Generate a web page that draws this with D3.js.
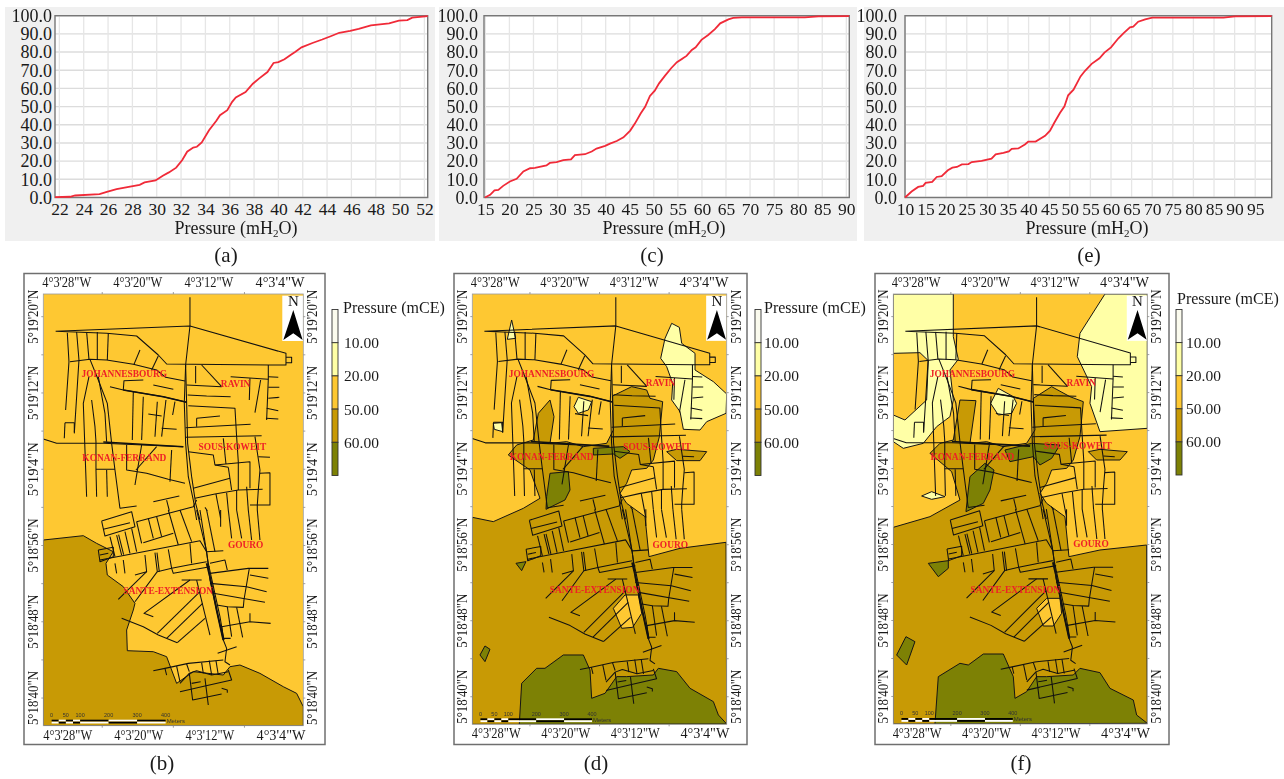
<!DOCTYPE html>
<html><head><meta charset="utf-8">
<script src="https://cdnjs.cloudflare.com/ajax/libs/d3/7.8.5/d3.min.js"></script>
<style>html,body{margin:0;background:#fff}svg{display:block;font-family:"Liberation Serif",serif;filter:blur(0.35px)}</style>
</head><body><svg id="c" width="1284" height="779"></svg>
<script>
// ---- cumulative curves: [pressure mH2O, percent] ----
const cdfA=[[21.64,0.2],[22.87,0.4],[23.3,1.1],[25.3,1.8],[25.9,3.1],[26.7,4.6],[27.7,5.9],[28.6,7.0],[29.0,8.3],[29.9,9.4],[30.5,12],[31.0,13.8],[31.6,16.4],[32.1,20.6],[32.5,25.2],[33.0,27.5],[33.3,27.9],[33.7,30.3],[34.3,37],[34.9,42.2],[35.2,45.3],[35.8,48],[36.2,52.6],[36.5,55],[37.3,58],[37.9,62.6],[38.4,65.4],[39.1,69],[39.6,74],[40.0,74.5],[40.5,76],[41,78.4],[41.4,80.2],[41.9,82.6],[42.8,85],[43.6,86.9],[44.3,88.7],[45,90.6],[45.9,91.7],[46.6,92.8],[47.6,94.7],[49.1,95.8],[49.9,97.3],[50.6,97.6],[51,98.9],[52.27,99.8]];
const cdfC=[[14.9,0],[16,1.5],[16.9,3.9],[17.7,4.2],[18.7,6.4],[20.1,8.8],[21.5,10.3],[22.9,14.3],[24.3,16.1],[25.3,16.3],[27.7,17.6],[28.4,19],[29.8,19.4],[31.2,20.5],[32.8,21],[33.6,23.3],[35.7,23.8],[37.1,25.3],[38.1,26.9],[39.9,28.4],[40.9,29.6],[42.3,31.1],[43.7,33.1],[45.1,36.8],[46.1,40.8],[47.3,46.3],[48.2,49.9],[49.2,55.9],[50.2,58.8],[51.1,62.8],[52.3,66.9],[53.6,71.1],[54.8,74.4],[56.8,77.9],[57.9,81.2],[58.7,82.6],[59.9,86.7],[61.3,89.4],[62.7,92.6],[63.8,95.8],[65.5,98],[66.5,98.8],[68.3,99.1],[81.4,99.1],[84.2,99.6],[90.6,99.8]];
const cdfE=[[10,0],[11.6,3.3],[13.2,5.8],[14.4,6.4],[15,8],[16.6,8.6],[17.7,11.3],[18.9,11.8],[20.4,15],[21.5,16.4],[22.6,16.8],[23.8,18.2],[25.4,18.4],[26.2,19.5],[28.6,20.1],[31,21.4],[32,23.7],[33.9,24.5],[35.2,25.4],[35.9,26.8],[37.5,27],[39.1,29.2],[39.9,30.7],[41.7,30.8],[44,33.9],[45.2,36.8],[46.2,41],[47.6,46.5],[48.7,50.2],[49.6,56.2],[50.9,59.3],[52.6,66.6],[53.7,69.7],[55.3,73.5],[57.2,76.6],[58.4,79.7],[60,82.6],[61.8,87.6],[63,90.3],[64.6,93.6],[65.4,94],[66.6,96.7],[68.3,98],[70,98.9],[87.3,98.9],[90.1,99.6],[99,99.8]];
const ticksA=[22,24,26,28,30,32,34,36,38,40,42,44,46,48,50,52];
const ticksC=[15,20,25,30,35,40,45,50,55,60,65,70,75,80,85,90];
const ticksE=[10,15,20,25,30,35,40,45,50,55,60,65,70,75,80,85,90,95];
const percentTicks=[0,10,20,30,40,50,60,70,80,90,100];
const domainA=[21.64,52.27], domainC=[14.72,90.62], domainE=[10,99];

// ---- map graticule (arc-seconds) ----
const lonTicks=[24,16,8], lonLabels=[[28,"4°3'28\"W"],[20,"4°3'20\"W"],[12,"4°3'12\"W"],[4,"4°3'4\"W"]];
const latTicks=[80,76,72,68,64,60,56,52,48,44,40];
const latLabels=[[80,"5°19'20\"N"],[72,"5°19'12\"N"],[64,"5°19'4\"N"],[56,"5°18'56\"N"],[48,"5°18'48\"N"],[40,"5°18'40\"N"]];
const legendBreaks=["10.00","20.00","50.00","60.00"];
const legendColors=["#fbfbee","#ffffa6","#fec832","#c89a05","#7d8105"];
const scaleBarMeters=[0,25,50,75,100,200,300,400], scaleBarLabels=[0,50,100,200,300,400];

// ---- road network, surveyed in sheet units (north and south sheets) ----
const roadsNorth=[
[[510,82],[510,168],[497,285],[493,400],[497,520],[505,620],[520,690],[530,750]],
[[497,285],[500,400],[503,520],[515,620],[527,700],[540,750]],
[[107,184],[510,168],[798,250],[798,285],[750,285],[440,282],[415,255],[350,198],[260,190],[107,184]],
[[798,262],[815,262],[815,278],[798,278]],
[[142,188],[147,275],[137,420]],[[170,186],[177,270],[163,490]],[[200,186],[207,268]],[[232,186],[232,270]],[[265,190],[262,270]],
[[150,275],[210,268],[260,270],[340,283],[410,300],[437,322],[495,333]],[[415,258],[395,300]],[[360,240],[342,283]],[[400,345],[460,358]],
[[270,350],[310,360],[430,380],[500,397]],[[310,360],[312,332],[370,330]],
[[210,268],[235,330],[262,400],[275,520],[285,600],[300,715]],[[207,320],[190,400],[200,680]],[[235,320],[255,430],[260,515]],
[[135,458],[163,458],[163,487]],[[135,458],[133,505]],[[215,390],[225,470],[228,515],[228,598],[230,680]],
[[70,507],[110,520],[250,520],[490,530]],[[260,600],[262,680]],[[228,598],[285,598]],
[[340,365],[337,510]],[[370,380],[365,510]],[[412,395],[405,500]],[[438,390],[425,500]],[[465,395],[458,435]],[[385,432],[425,438]],[[425,475],[470,478]],
[[320,525],[320,600],[380,610],[445,628],[495,640]],[[365,525],[345,645]],[[410,530],[348,600]],[[455,540],[450,635]],
[[503,375],[560,378],[632,380]],[[500,345],[605,350]],[[527,288],[527,340]],[[545,285],[605,350]],
[[505,407],[645,415],[650,500],[655,575],[655,660]],[[530,445],[600,438]],[[530,445],[530,470]],[[497,473],[692,463]],[[497,502],[725,497]],
[[632,320],[745,328]],[[745,285],[745,328],[740,450]],[[745,320],[775,322]],[[745,352],[778,352]],[[745,385],[778,382]],[[740,415],[775,422]],[[738,445],[775,447]],[[690,325],[688,390]],[[722,330],[705,428]],
[[505,545],[580,555],[585,585],[625,592]],[[610,505],[618,582]],[[585,585],[690,575],[690,655]],[[625,592],[635,660]],
[[705,500],[720,600],[715,660],[712,705]],[[715,560],[750,562]],[[720,610],[750,608],[750,705],[690,705]],[[520,655],[630,625]],[[525,685],[585,672],[655,660],[728,658]],
[[350,755],[520,710],[530,690]],[[400,695],[478,678]],[[300,715],[350,708]],[[440,690],[448,722]],
[[555,712],[562,722]],[[588,672],[602,745]],[[620,668],[625,720]],[[650,660],[650,720]],[[680,650],[685,720]],[[712,705],[712,720]]
];
const roadsSouth=[
[[530,-30],[560,95],[570,180],[590,270],[610,360],[620,385],[615,425],[630,435]],
[[540,-30],[565,130],[600,290],[612,360]],
[[245,3],[335,-25],[345,20],[255,48],[245,3]],[[250,28],[330,8]],
[[350,5],[365,70]],[[385,-5],[400,55]],[[410,-10],[425,50]],[[370,68],[460,40]],[[445,-30],[475,75]],[[480,-30],[515,65]],
[[270,50],[285,110]],[[290,45],[305,105]],[[296,44],[311,104]],[[315,35],[330,100]],[[335,25],[350,95]],
[[240,120],[370,95],[540,62],[560,95],[610,92]],[[235,90],[280,82],[280,110],[240,125],[235,90]],[[240,105],[265,100]],
[[445,88],[455,145],[505,135],[560,125]],[[455,145],[460,160],[570,140]],[[510,70],[515,130]],[[570,130],[615,120],[622,150]],[[570,160],[685,145],[745,145]],
[[285,130],[290,160]],[[310,120],[315,160]],[[375,105],[380,155],[345,165]],[[380,155],[295,238]],[[405,98],[412,155],[345,245]],[[411,98],[418,155]],[[412,155],[455,145]],
[[560,-30],[585,95]],[[602,-30],[602,20]],[[625,-30],[635,55]],[[650,-30],[665,55]],[[685,-30],[695,60]],[[712,-30],[720,60]],
[[688,145],[672,240],[670,262],[622,260],[590,255]],[[690,165],[745,175]],[[570,190],[680,200],[740,215]],[[580,220],[735,247]],
[[622,260],[635,350]],[[650,262],[668,352]],[[605,320],[690,305],[752,310]],[[690,280],[690,305]],[[605,320],[610,355],[632,355]],
[[485,180],[545,180]],[[510,180],[372,280],[400,290]],[[540,215],[412,340]],[[548,250],[440,355]],[[555,295],[472,368]],[[305,295],[370,320],[415,345],[472,368]],[[530,180],[570,345]],
[[593,400],[650,380]],
[[400,452],[435,445],[505,430],[610,420]],[[435,445],[440,465]],[[470,438],[480,485]],[[500,432],[508,455]],[[545,428],[550,460]],[[568,422],[575,465]],[[588,422],[595,465]],
[[480,490],[508,460],[530,452],[575,465],[625,455]],[[625,450],[635,480],[555,498],[480,515]],[[508,460],[518,540],[605,522]],[[515,490],[542,485]],[[555,475],[565,555]],[[605,505],[622,510],[622,518]]
];
const trunkRoad=[[[250,516],[490,530]],[[310,360],[430,380],[500,397]]];
const trunkRoadSouth=[[[560,130],[570,170],[590,270],[610,360]]];

// ---- pressure zones per map, in each panel's own sheet units ----
const zonesB=[{k:3,p:[[70,810],[190,797],[230,820],[280,845],[258,880],[262,915],[310,950],[345,1000],[340,1020],[320,1080],[322,1142],[400,1145],[440,1160],[470,1240],[520,1205],[610,1215],[630,1190],[660,1185],[720,1210],[790,1250],[830,1270],[850,1310],[850,1367],[70,1367]]}];
const zonesD=[
{k:1,p:[[665,160],[688,172],[695,220],[735,250],[735,300],[790,335],[830,372],[828,430],[770,455],[750,480],[700,478],[690,425],[665,390],[668,340],[650,290],[632,265],[645,205]]},
{k:1,p:[[185,150],[197,205],[172,208]]},
{k:1,p:[[372,410],[385,382],[425,395],[415,420],[385,430]]},
{k:1,p:[[130,460],[155,458],[158,485],[133,478]]},
{k:3,p:[[67,742],[130,755],[220,715],[270,685],[240,600],[175,555],[200,525],[250,510],[265,430],[300,390],[312,440],[300,520],[350,515],[400,530],[470,520],[490,480],[488,378],[545,350],[590,360],[600,385],[638,395],[628,500],[610,570],[590,595],[545,600],[530,640],[510,670],[530,700],[585,740],[597,860],[690,835],[828,817],[830,1363],[67,1363]]},
{k:3,p:[[650,545],[680,538],[770,545],[750,572],[680,572]]},
{k:2,p:[[490,1015],[525,975],[565,975],[575,1030],[548,1072],[515,1075]]},
{k:4,p:[[300,610],[355,605],[360,660],[345,690],[288,718],[290,680]]},
{k:4,p:[[430,535],[520,530],[540,545],[510,565],[490,552],[430,555]]},
{k:4,p:[[208,1363],[215,1240],[260,1195],[285,1195],[340,1155],[400,1155],[420,1200],[425,1285],[465,1270],[500,1220],[530,1220],[610,1215],[625,1195],[680,1205],[720,1255],[790,1295],[805,1335],[830,1362]]},
{k:4,p:[[90,1155],[105,1128],[120,1138],[105,1175]]},
{k:4,p:[[198,880],[228,875],[215,902]]}
];
const zonesF=[
{k:1,p:[[70,72],[250,72],[250,200],[265,268],[240,300],[250,390],[240,440],[200,470],[160,520],[100,535],[70,515]]},
{k:2,p:[[70,250],[150,248],[175,272],[170,390],[105,450],[70,435]]},
{k:1,p:[[705,72],[630,190],[622,260],[665,350],[660,400],[690,485],[832,475],[832,72]]},
{k:1,p:[[362,400],[385,355],[430,380],[440,400],[425,430],[385,435]]},
{k:3,p:[[70,772],[180,740],[270,690],[245,605],[180,550],[210,520],[250,510],[270,390],[318,392],[300,520],[350,515],[400,530],[470,520],[495,480],[490,385],[545,350],[600,380],[640,395],[630,500],[610,570],[590,595],[545,600],[530,640],[510,670],[530,700],[585,740],[597,860],[690,840],[830,825],[832,1362],[70,1362]]},
{k:3,p:[[655,545],[690,538],[772,545],[750,570],[680,570]]},
{k:2,p:[[500,1015],[530,985],[570,985],[575,1030],[550,1068],[520,1068]]},
{k:1,p:[[155,678],[185,665],[225,680],[185,688]]},
{k:4,p:[[300,620],[345,580],[372,600],[360,660],[340,700],[288,725],[295,660]]},
{k:4,p:[[405,540],[485,520],[570,525],[545,565],[510,585],[490,560],[420,575]]},
{k:4,p:[[195,1362],[205,1220],[270,1180],[295,1185],[340,1152],[400,1152],[430,1220],[435,1285],[470,1265],[500,1220],[530,1220],[610,1215],[630,1195],[690,1208],[720,1255],[790,1290],[800,1335],[832,1360]]},
{k:4,p:[[80,1155],[108,1100],[135,1115],[110,1185]]},
{k:4,p:[[175,880],[235,872],[235,895],[205,920]]}
];
const placeNames=[["JOHANNESBOURG",313,312],["RAVIN",647,340],["SOUS-KOWEIT",637,530],["KONAN-FERRAND",313,563],["GOURO",677,825],["SANTE-EXTENSION",445,963]];
const northArrow=[[820,120],[848,210],[820,190],[790,210]];

const svg=d3.select("#c");
const ink="#1a1a1a";

function drawCurve(o){
  const g=svg.append("g");
  g.append("rect").attr("x",o.bg[0]).attr("y",7).attr("width",o.bg[1]-o.bg[0]).attr("height",234).attr("fill","#f0f0f0");
  g.append("rect").attr("x",o.x0).attr("y",15.7).attr("width",o.x1-o.x0).attr("height",181.8).attr("fill","#fff");
  const x=d3.scaleLinear().domain(o.domain).range([o.x0,o.x1]);
  const y=d3.scaleLinear().domain([0,100]).range([197.5,15.7]);
  g.append("g").selectAll("line").data(percentTicks).join("line").attr("x1",o.x0).attr("x2",o.x1).attr("y1",y).attr("y2",y).attr("stroke","#dcdcdc").attr("stroke-width",1.4);
  g.append("g").selectAll("line").data(o.ticks).join("line").attr("x1",x).attr("x2",x).attr("y1",15.7).attr("y2",197.5).attr("stroke","#e6e6e6").attr("stroke-width",1.3);
  g.append("rect").attr("x",o.x0).attr("y",15.7).attr("width",o.x1-o.x0).attr("height",181.8).attr("fill","none").attr("stroke","#777").attr("stroke-width",1.4);
  g.append("path").attr("d",d3.line().x(d=>x(d[0])).y(d=>y(d[1]))(o.data)).attr("fill","none").attr("stroke","#f02a38").attr("stroke-width",1.8);
  const ax=g.append("g").attr("transform","translate(0,197.5)").call(d3.axisBottom(x).tickValues(o.ticks).tickSize(0).tickPadding(5).tickFormat(d3.format("d")));
  ax.select(".domain").remove();
  ax.selectAll("text").attr("font-family","Liberation Serif").attr("font-size",17.5).attr("fill",ink);
  const ay=g.append("g").attr("transform",`translate(${o.x0},0)`).call(d3.axisLeft(y).tickValues(percentTicks).tickSize(0).tickPadding(o.pad).tickFormat(d3.format(".1f")));
  ay.select(".domain").remove();
  ay.selectAll("text").attr("font-family","Liberation Serif").attr("font-size",18).attr("fill",ink);
  const t=g.append("text").attr("x",o.tx).attr("y",234).attr("text-anchor","middle").attr("font-size",18).attr("fill",ink).text("Pressure (mH");
  t.append("tspan").attr("font-size",11).attr("dy",3).text("2");
  t.append("tspan").attr("dy",-3).text("O)");
  svg.append("text").attr("x",o.lx).attr("y",262).attr("text-anchor","middle").attr("font-size",21).attr("fill",ink).text(o.letter);
}

function drawMap(o){
  const g=svg.append("g");
  g.append("rect").attr("x",o.frame[0]).attr("y",273.5).attr("width",o.frame[1]-o.frame[0]).attr("height",471).attr("fill","#fff").attr("stroke","#6f6f6f").attr("stroke-width",1.5);
  const [px0,px1,py0,py1]=o.plot;
  const clipId="clip"+o.letter[1];
  g.append("clipPath").attr("id",clipId).append("rect").attr("x",px0).attr("y",py0).attr("width",px1-px0).attr("height",py1-py0);
  const m=g.append("g").attr("clip-path",`url(#${clipId})`);
  m.append("rect").attr("x",px0).attr("y",py0).attr("width",px1-px0).attr("height",py1-py0).attr("fill",legendColors[2]);
  const sx=d3.scaleLinear().domain(o.sheetX).range([px0,px1]);
  const sy=d3.scaleLinear().domain(o.sheetY).range([py0,py1]);
  const rx=d3.scaleLinear().domain([70,850]).range([px0,px1]);
  const ry=d3.scaleLinear().domain([72,1367]).range([py0,py1]);
  const zoneLine=d3.line().x(d=>sx(d[0])).y(d=>sy(d[1])).curve(d3.curveLinear);
  m.selectAll("path.z").data(o.zones).join("path").attr("class","z").attr("d",d=>zoneLine(d.p)+"Z")
    .attr("fill",d=>legendColors[d.k]).attr("stroke","#151515").attr("stroke-width",1);
  const north=d3.line().x(d=>rx(d[0])).y(d=>ry(d[1]));
  const south=d3.line().x(d=>rx(d[0])).y(d=>ry(d[1]+750));
  const rd=m.append("g").attr("fill","none").attr("stroke","#111").attr("stroke-linejoin","round");
  rd.selectAll("path.n").data(roadsNorth).join("path").attr("class","n").attr("d",north).attr("stroke-width",1.05);
  rd.selectAll("path.s").data(roadsSouth).join("path").attr("class","s").attr("d",south).attr("stroke-width",1.05);
  rd.selectAll("path.tn").data(trunkRoad).join("path").attr("class","tn").attr("d",north).attr("stroke-width",1.6);
  rd.selectAll("path.ts").data(trunkRoadSouth).join("path").attr("class","ts").attr("d",south).attr("stroke-width",1.9);
  m.append("rect").attr("x",rx(787)).attr("y",ry(77)).attr("width",rx(850)-rx(787)).attr("height",ry(213)-ry(77)).attr("fill","#fff");
  m.append("path").attr("d",north(northArrow)+"Z").attr("fill","#000");
  m.append("text").attr("x",rx(820)).attr("y",ry(108)).attr("text-anchor","middle").attr("font-size",15).attr("fill","#111").text("N");
  m.selectAll("text.pn").data(placeNames).join("text").attr("class","pn").attr("x",d=>rx(d[1])).attr("y",d=>ry(d[2]+10)).attr("text-anchor","middle")
    .attr("font-size",9.4).attr("font-weight","bold").attr("fill","#ee2027").text(d=>d[0]);
  const mb=d3.scaleLinear().domain([0,400]).range([rx(95),rx(437)]);
  const bar=m.append("g");
  const segs=d3.pairs(scaleBarMeters);
  bar.selectAll("rect.a").data(segs).join("rect").attr("class","a").attr("x",d=>mb(d[0])).attr("y",ry(1349)).attr("width",d=>mb(d[1])-mb(d[0])).attr("height",1.8).attr("fill",(d,i)=>i%2?"#fff":"#000");
  bar.selectAll("rect.b").data(segs).join("rect").attr("class","b").attr("x",d=>mb(d[0])).attr("y",ry(1355)).attr("width",d=>mb(d[1])-mb(d[0])).attr("height",1.8).attr("fill",(d,i)=>i%2?"#000":"#fff");
  bar.selectAll("text").data(scaleBarLabels).join("text").attr("x",mb).attr("y",ry(1341)).attr("text-anchor","middle").attr("font-family","Liberation Sans").attr("font-size",5.5).attr("fill","#333").text(d=>d);
  bar.append("text").attr("x",rx(440)).attr("y",ry(1359)).attr("font-family","Liberation Sans").attr("font-size",6).attr("fill","#333").text("Meters");
  g.append("rect").attr("x",px0).attr("y",py0).attr("width",px1-px0).attr("height",py1-py0).attr("fill","none").attr("stroke","#9a9a9a").attr("stroke-width",0.8);
  const lon=d3.scaleLinear().domain([30.63,1.38]).range([px0,px1]);
  const lat=d3.scaleLinear().domain([82.38,37.1]).range([py0,py1]);
  const tk=g.append("g").attr("stroke","#888").attr("stroke-width",0.8);
  lonTicks.forEach(v=>{tk.append("line").attr("x1",lon(v)).attr("x2",lon(v)).attr("y1",py0-2).attr("y2",py0);tk.append("line").attr("x1",lon(v)).attr("x2",lon(v)).attr("y1",py1).attr("y2",py1+2);});
  latTicks.forEach(v=>{tk.append("line").attr("x1",px0-2).attr("x2",px0).attr("y1",lat(v)).attr("y2",lat(v));tk.append("line").attr("x1",px1).attr("x2",px1+2).attr("y1",lat(v)).attr("y2",lat(v));});
  const lab=g.append("g").attr("font-size",14).attr("fill",ink).attr("text-anchor","middle");
  lonLabels.forEach(d=>{
    lab.append("text").attr("x",lon(d[0])).attr("y",py0-7).attr("textLength",49).attr("lengthAdjust","spacingAndGlyphs").text(d[1]);
    lab.append("text").attr("x",lon(d[0])+1).attr("y",py1+14).attr("textLength",49).attr("lengthAdjust","spacingAndGlyphs").text(d[1]);
  });
  latLabels.forEach(d=>{
    lab.append("text").attr("transform",`translate(${px0-5},${lat(d[0])}) rotate(-90)`).attr("textLength",54).attr("lengthAdjust","spacingAndGlyphs").text(d[1]);
    lab.append("text").attr("transform",`translate(${px1+14},${lat(d[0])}) rotate(-90)`).attr("textLength",54).attr("lengthAdjust","spacingAndGlyphs").text(d[1]);
  });
  const ly=d3.scaleBand().domain(legendColors).range([o.leg.y0,o.leg.y1]);
  const lg=g.append("g");
  lg.selectAll("rect").data(legendColors).join("rect").attr("x",o.leg.x).attr("y",d=>ly(d)).attr("width",6).attr("height",ly.bandwidth()).attr("fill",d=>d).attr("stroke","#333").attr("stroke-width",0.9);
  lg.selectAll("text.lb").data(legendBreaks).join("text").attr("class","lb").attr("x",o.leg.lx).attr("y",(d,i)=>ly(legendColors[i+1])+5.5).attr("font-size",15.5).attr("fill",ink).text(d=>d);
  lg.append("text").attr("x",o.leg.tx).attr("y",o.leg.ty).attr("font-size",16).attr("fill",ink).text("Pressure (mCE)");
  svg.append("text").attr("x",o.lx).attr("y",770).attr("text-anchor","middle").attr("font-size",21).attr("fill",ink).text(o.letter);
}

drawCurve({bg:[5,435],x0:55,x1:427.7,domain:domainA,ticks:ticksA,data:cdfA,tx:236,lx:226,letter:"(a)",pad:3});
drawCurve({bg:[439,857],x0:484,x1:849.3,domain:domainC,ticks:ticksC,data:cdfC,tx:664,lx:652,letter:"(c)",pad:6});
drawCurve({bg:[864,1284],x0:905,x1:1271.7,domain:domainE,ticks:ticksE,data:cdfE,tx:1087,lx:1089,letter:"(e)",pad:8});
drawMap({frame:[24,325],plot:[43.3,303.3,294,725.7],sheetX:[70,850],sheetY:[72,1367],zones:zonesB,lx:162,letter:"(b)",
  leg:{x:332,y0:309.5,y1:475.5,lx:344,tx:343,ty:313}});
drawMap({frame:[454,747],plot:[472.3,726.7,294,724.3],sheetX:[67,830],sheetY:[72,1363],zones:zonesD,lx:596,letter:"(d)",
  leg:{x:755,y0:309.5,y1:475.5,lx:764,tx:764,ty:313}});
drawMap({frame:[875,1169],plot:[893.3,1147.3,294,724],sheetX:[70,832],sheetY:[72,1362],zones:zonesF,lx:1021,letter:"(f)",
  leg:{x:1176,y0:309.5,y1:475,lx:1186,tx:1177,ty:304}});
</script></body></html>
